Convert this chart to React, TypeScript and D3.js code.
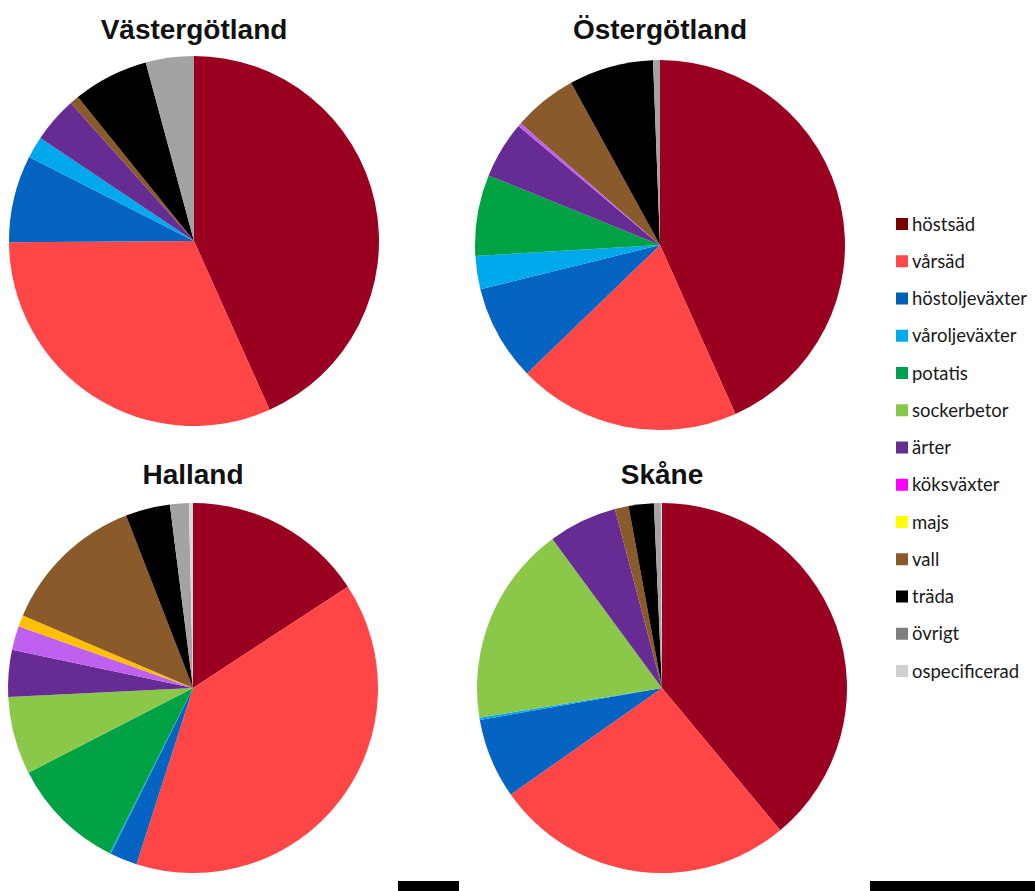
import React from "react";
import * as d3 from "d3";

const categories = [
  "höstsäd",
  "vårsäd",
  "höstoljeväxter",
  "våroljeväxter",
  "potatis",
  "sockerbetor",
  "ärter",
  "köksväxter",
  "majs",
  "vall",
  "träda",
  "övrigt",
  "ospecificerad",
];

const regions = ["Västergötland", "Östergötland", "Halland", "Skåne"];

// shares in percent, in category order
const vastergotland = [43.3, 31.6, 7.6, 1.9, 0, 0, 4.0, 0, 0, 0.8, 6.6, 4.2, 0];
const ostergotland = [43.4, 19.5, 8.4, 2.9, 7.1, 0, 5.0, 0.3, 0, 5.6, 7.4, 0.6, 0];
const halland = [15.8, 39.2, 2.4, 0.1, 10.0, 6.8, 4.1, 2.1, 1.0, 12.7, 3.9, 1.65, 0.35];
const skane = [39.0, 26.3, 7.0, 0.2, 0, 17.5, 6.0, 0, 0, 1.2, 2.2, 0.6, 0.1];

const regionValues = [vastergotland, ostergotland, halland, skane];

const pieColors = [
  "#9a0020",
  "#ff4646",
  "#0563c1",
  "#00a8ec",
  "#00a244",
  "#8bc84a",
  "#672c93",
  "#c060f0",
  "#ffc000",
  "#8b5a2b",
  "#000000",
  "#a3a3a3",
  "#dadada",
];

const legendColors = [
  "#7a0000",
  "#ff4a4a",
  "#0060b8",
  "#00aaee",
  "#00a050",
  "#88c848",
  "#662d91",
  "#ff00ff",
  "#ffff00",
  "#8b5a2b",
  "#000000",
  "#7f7f7f",
  "#d0d0d0",
];

const W = 1035;
const H = 891;
const R = 185;
const centers: [number, number][] = [
  [194, 241],
  [660, 245],
  [193, 688],
  [662, 688],
];
const titleY = [39, 39, 484, 484];

export default function App() {
  const pie = d3
    .pie<number>()
    .sort(null)
    .value((d) => d)
    .startAngle(0)
    .endAngle(2 * Math.PI);
  const arc = d3.arc<d3.PieArcDatum<number>>().innerRadius(0).outerRadius(R);

  const legendY = d3
    .scalePoint<string>()
    .domain(categories)
    .range([224, 671]);

  return (
    <svg
      width={W}
      height={H}
      style={{ position: "absolute", left: 0, top: 0, background: "#fff" }}
    >
      {regions.map((name, i) => {
        const [cx, cy] = centers[i];
        const arcs = pie(regionValues[i]);
        return (
          <g key={name}>
            <g transform={`translate(${cx},${cy})`}>
              {arcs.map((a, j) =>
                a.value > 0 ? (
                  <path key={j} d={arc(a) || ""} fill={pieColors[j]} />
                ) : null
              )}
            </g>
            <text
              x={cx}
              y={titleY[i]}
              textAnchor="middle"
              fontFamily="'Liberation Sans', Arial, sans-serif"
              fontWeight="bold"
              fontSize={28}
              fill="#111"
            >
              {name}
            </text>
          </g>
        );
      })}
      {categories.map((c, i) => {
        const y = legendY(c) as number;
        return (
          <g key={c}>
            <rect x={896} y={y - 6} width={12} height={12} fill={legendColors[i]} />
            <text
              x={912}
              y={y + 6.5}
              fontFamily="Lato, 'Open Sans', sans-serif"
              fontSize={18.5}
              fill="#1a1a1a"
            >
              {c}
            </text>
          </g>
        );
      })}
      <rect x={398} y={881} width={61} height={10} fill="#000" />
      <rect x={870} y={881} width={165} height={10} fill="#000" />
    </svg>
  );
}
